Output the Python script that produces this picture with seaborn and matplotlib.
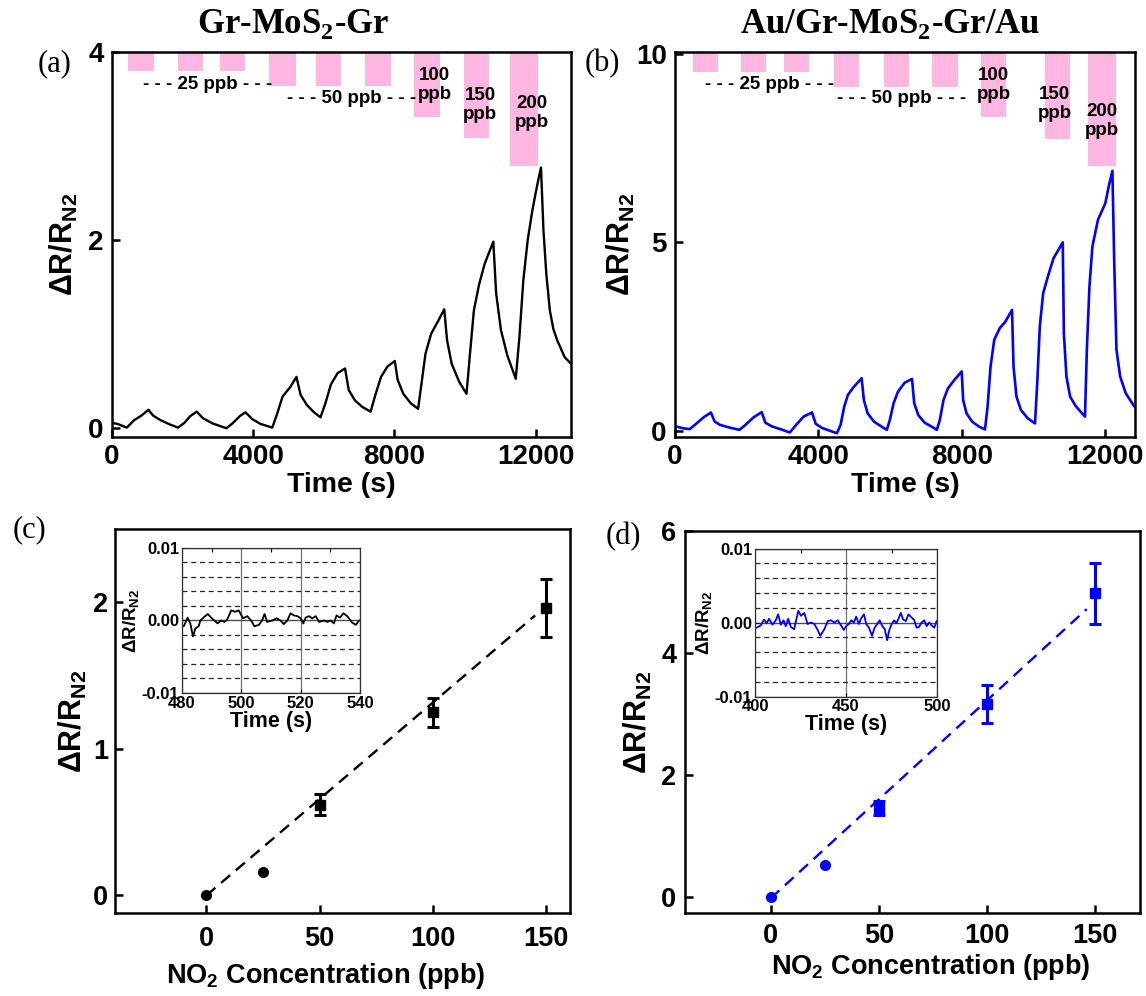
import numpy as np
import matplotlib
matplotlib.use("Agg")
import matplotlib.pyplot as plt
from matplotlib.ticker import MultipleLocator
import seaborn as sns

# ---------------- transient response, Gr-MoS2-Gr (time in s, dR/R_N2) ----------------
t_a = [0, 150, 420, 630, 840, 1030, 1160, 1370, 1630, 1870, 2050, 2210, 2400, 2575, 2840,
       3240, 3415, 3625, 3780, 3975, 4200, 4540, 4680, 4830, 5045, 5225, 5340, 5520, 5730,
       5905, 6045, 6200, 6390, 6600, 6705, 6880, 7090, 7325, 7460, 7620, 7800, 8010, 8090,
       8250, 8460, 8670, 8780, 8880, 9040, 9230, 9410, 9490, 9620, 9830, 10040, 10140, 10250,
       10400, 10560, 10800, 10880, 11015, 11195, 11435, 11540, 11650, 11775, 11900, 12000,
       12080, 12150, 12220, 12300, 12400, 12500, 12610, 12820, 13000]
r_a = [0.05, 0.04, 0.00, 0.08, 0.13, 0.19, 0.13, 0.08, 0.035, 0.00, 0.05, 0.12, 0.17, 0.10,
       0.046, -0.007, 0.046, 0.124, 0.163, 0.09, 0.04, 0.00, 0.15, 0.33, 0.43, 0.54, 0.35,
       0.24, 0.16, 0.11, 0.26, 0.46, 0.58, 0.63, 0.40, 0.29, 0.22, 0.17, 0.35, 0.54, 0.65,
       0.71, 0.51, 0.36, 0.26, 0.20, 0.51, 0.79, 1.00, 1.13, 1.26, 0.93, 0.68, 0.49, 0.36,
       0.79, 1.25, 1.53, 1.75, 1.98, 1.43, 1.04, 0.77, 0.52, 0.97, 1.57, 2.00, 2.30, 2.50,
       2.65, 2.77, 2.10, 1.64, 1.25, 1.05, 0.93, 0.75, 0.68]

# ---------------- transient response, Au/Gr-MoS2-Gr/Au ----------------
t_b = [0, 227, 413, 589, 795, 1002, 1105, 1260, 1519, 1797, 1963, 2190, 2417, 2520, 2706,
       2965, 3202, 3378, 3585, 3822, 3925, 4101, 4308, 4514, 4618, 4721, 4824, 4979, 5206,
       5268, 5372, 5547, 5754, 5909, 5992, 6095, 6219, 6405, 6611, 6673, 6787, 6963, 7148,
       7303, 7386, 7489, 7613, 7789, 7996, 8037, 8130, 8285, 8471, 8646, 8719, 8801, 8905,
       9060, 9215, 9400, 9442, 9524, 9648, 9834, 10041, 10103, 10175, 10268, 10402, 10557,
       10815, 10846, 10918, 11021, 11176, 11435, 11487, 11559, 11642, 11797, 12003, 12100,
       12200, 12250, 12313, 12417, 12572, 12810]
r_b = [0.13, 0.07, 0.05, 0.19, 0.36, 0.49, 0.25, 0.16, 0.09, 0.03, 0.16, 0.36, 0.50, 0.22,
       0.12, 0.04, -0.04, 0.16, 0.38, 0.49, 0.19, 0.08, 0.01, -0.06, 0.16, 0.65, 0.96, 1.16,
       1.40, 0.82, 0.47, 0.25, 0.12, 0.03, 0.29, 0.73, 1.04, 1.28, 1.38, 0.73, 0.42, 0.22,
       0.12, 0.03, 0.29, 0.82, 1.13, 1.35, 1.58, 0.82, 0.47, 0.25, 0.12, 0.04, 0.65, 1.71,
       2.42, 2.73, 2.90, 3.21, 1.71, 0.91, 0.56, 0.34, 0.20, 1.27, 2.77, 3.65, 4.10, 4.58,
       5.00, 2.59, 1.44, 0.91, 0.66, 0.38, 2.15, 3.83, 4.89, 5.60, 6.04, 6.50, 6.90, 4.50,
       2.15, 1.44, 1.00, 0.65]

# ---------------- NO2 pulses: gas on / off (s) and lower edge of each pulse bar ----------------
pulse_on_a = [440, 1860, 3050, 4460, 5770, 7160, 8550, 9960, 11270]
pulse_off_a = [1180, 2590, 3780, 5200, 6480, 7890, 9280, 10670, 12060]
pulse_floor_a = [3.80, 3.80, 3.80, 3.64, 3.64, 3.64, 3.31, 3.08, 2.79]

pulse_on_b = [490, 1850, 3040, 4430, 5820, 7160, 8530, 10310, 11530]
pulse_off_b = [1190, 2550, 3740, 5120, 6540, 7890, 9240, 11010, 12290]
pulse_floor_b = [9.52, 9.52, 9.52, 9.12, 9.12, 9.12, 8.33, 7.75, 7.03]

pulse_text = ["- - - 25 ppb - - -", "- - - 50 ppb - - -", "100\nppb", "150\nppb", "200\nppb"]

# ---------------- calibration: response vs NO2 concentration ----------------
conc = [0, 25, 50, 100, 150]
resp_c = [0.00, 0.16, 0.62, 1.25, 1.96]
err_c = [0.00, 0.00, 0.07, 0.10, 0.20]
fit_c_x = [0, 145]
fit_c_y = [0.00, 1.91]

resp_d = [0.00, 0.52, 1.46, 3.16, 4.98]
err_d = [0.00, 0.00, 0.11, 0.31, 0.50]
fit_d_x = [0, 146]
fit_d_y = [-0.02, 4.72]

# ---------------- baseline noise in N2 ----------------
t_nc = [480.6, 481.9, 482.8, 483.7, 484.5, 485.6, 486.2, 487.5, 488.7, 489.8, 490.9, 492.0,
        493.2, 494.3, 495.2, 496.6, 498.0, 499.1, 500.6, 502.0, 503.3, 504.4, 505.9, 507.0,
        507.8, 508.7, 510.4, 511.9, 513.2, 514.3, 515.5, 516.6, 517.7, 518.9, 520.0, 520.9,
        521.7, 522.8, 523.9, 525.1, 526.2, 527.9, 529.0, 530.1, 531.2, 532.1, 533.3, 534.4,
        535.7, 537.4, 538.6, 539.7]
n_c = [-0.0008, 0.0004, -0.0004, -0.0022, -0.0011, -0.0008, 0.0000, 0.0005, 0.0009, 0.0004,
       0.0000, -0.0004, 0.0000, -0.0002, 0.0001, 0.0014, 0.0012, 0.0014, 0.0003, 0.0006,
       0.0000, -0.0008, -0.0006, 0.0000, 0.0009, -0.0002, 0.0000, 0.0003, 0.0000, -0.0005,
       0.0000, 0.0010, 0.0007, 0.0006, 0.0003, -0.0004, 0.0004, 0.0006, 0.0003, 0.0006,
       -0.0002, 0.0000, -0.0002, 0.0000, -0.0004, 0.0007, 0.0004, 0.0010, 0.0006, -0.0003,
       -0.0006, 0.0000]

t_nd = [400.9, 403.1, 405.0, 406.4, 407.7, 409.6, 411.4, 412.7, 414.2, 415.7, 416.9, 418.2,
        419.7, 421.5, 423.8, 425.2, 427.1, 428.9, 430.8, 432.6, 434.4, 435.9, 438.1, 440.0,
        441.8, 443.6, 445.5, 447.3, 448.8, 450.1, 451.6, 452.9, 454.3, 455.6, 457.1, 458.4,
        459.9, 461.1, 462.6, 464.3, 465.7, 467.2, 468.5, 470.0, 471.3, 472.6, 473.7, 474.9,
        476.4, 477.7, 479.0, 480.1, 481.4, 482.9, 484.3, 486.0, 487.5, 488.8, 490.1, 491.5,
        493.0, 494.3, 495.8, 497.1, 498.5, 499.8]
n_d = [-0.0007, -0.0004, 0.0004, -0.0001, 0.0005, -0.0003, 0.0003, 0.0011, -0.0003, 0.0003,
       -0.0005, 0.0005, -0.0006, -0.0009, 0.0016, 0.0009, 0.0013, -0.0002, 0.0000, -0.0002,
       -0.0010, -0.0018, -0.0009, 0.0002, 0.0003, 0.0000, 0.0003, -0.0004, -0.0010, -0.0005,
       -0.0002, 0.0003, 0.0000, 0.0008, -0.0002, 0.0006, 0.0011, -0.0002, -0.0007, -0.0018,
       -0.0007, -0.0002, 0.0003, -0.0005, -0.0009, -0.0024, -0.0011, -0.0003, 0.0003, -0.0001,
       0.0006, 0.0013, 0.0004, 0.0002, 0.0011, 0.0007, 0.0003, -0.0007, -0.0006, 0.0000,
       0.0003, -0.0005, 0.0000, -0.0004, -0.0007, 0.0002]

inset_ticklabels = ["-0.01", "0.00", "0.01"]

# ---------------- styling ----------------
BLACK = "#000000"
BLUE = "#0000FF"
PINK = "#FFB6E0"
SANS = ["Liberation Sans", "DejaVu Sans"]
SERIF = ["Liberation Serif", "DejaVu Serif"]

sns.set_theme(style="ticks")
plt.rcParams.update({
    "font.family": SANS,
    "font.weight": "bold",
    "axes.labelweight": "bold",
    "text.color": "black",
    "axes.labelcolor": "black",
    "axes.edgecolor": "black",
    "axes.linewidth": 1.8,
    "xtick.color": "black",
    "ytick.color": "black",
    "xtick.labelcolor": "black",
    "ytick.labelcolor": "black",
    "xtick.direction": "in",
    "ytick.direction": "in",
})

YLABEL = "\u0394R/R$_\\mathregular{N2}$"

W, H = 1146, 996
fig = plt.figure(figsize=(W / 100, H / 100), dpi=100)


def px_axes(left, top, right, bottom):
    return fig.add_axes([left / W, 1 - bottom / H, (right - left) / W, (bottom - top) / H])


def style_main(ax, fs, xpad, ypad):
    ax.tick_params(axis="both", which="major", labelsize=fs, length=6, width=1.8,
                   direction="in", top=False, right=False, colors="black")
    ax.tick_params(axis="x", pad=xpad)
    ax.tick_params(axis="y", pad=ypad)
    for s in ax.spines.values():
        s.set_visible(True)
        s.set_linewidth(1.8)
        s.set_color("black")


def draw_pulses(ax, on, off, floor, top, labels_xy):
    widths = [b - a for a, b in zip(on, off)]
    heights = [top - f for f in floor]
    ax.bar(on, heights, width=widths, bottom=floor, align="edge", color=PINK,
           linewidth=0, zorder=1)
    for txt, (x, y) in zip(pulse_text, labels_xy):
        ax.text(x, y, txt, transform=ax.transAxes, ha="center", va="center",
                fontsize=13.5, fontweight="bold", color="black", linespacing=1.15, zorder=3)


# ---------------- (a) ----------------
ax_a = px_axes(112, 52, 571, 437)
ylim_a = (-0.1, 4.0)
draw_pulses(ax_a, pulse_on_a, pulse_off_a, pulse_floor_a, ylim_a[1],
            [(0.209, 0.916), (0.521, 0.879), (0.703, 0.915), (0.802, 0.862), (0.915, 0.842)])
sns.lineplot(x=t_a, y=r_a, ax=ax_a, color=BLACK, lw=1.7, estimator=None, sort=False, zorder=2)
ax_a.set_xlim(0, 13000)
ax_a.set_ylim(*ylim_a)
ax_a.set_xticks([0, 4000, 8000, 12000])
ax_a.set_yticks([0, 2, 4])
style_main(ax_a, 20, 5, 6)
ax_a.set_xlabel("Time (s)", fontsize=20.5)
ax_a.set_ylabel(YLABEL, fontsize=22)
ax_a.xaxis.set_label_coords(0.5, -0.09)
ax_a.yaxis.set_label_coords(-0.07, 0.5)

# ---------------- (b) ----------------
ax_b = px_axes(675, 52, 1135, 437)
ylim_b = (-0.16, 10.05)
draw_pulses(ax_b, pulse_on_b, pulse_off_b, pulse_floor_b, ylim_b[1],
            [(0.205, 0.916), (0.493, 0.879), (0.693, 0.915), (0.825, 0.864), (0.929, 0.822)])
sns.lineplot(x=t_b, y=r_b, ax=ax_b, color=BLUE, lw=1.9, estimator=None, sort=False, zorder=2)
ax_b.set_xlim(0, 12830)
ax_b.set_ylim(*ylim_b)
ax_b.set_xticks([0, 4000, 8000, 12000])
ax_b.set_yticks([0, 5, 10])
style_main(ax_b, 20, 5, 6)
ax_b.set_xlabel("Time (s)", fontsize=20.5)
ax_b.set_ylabel(YLABEL, fontsize=22)
ax_b.xaxis.set_label_coords(0.5, -0.09)
ax_b.yaxis.set_label_coords(-0.083, 0.5)


def calibration(ax, resp, err, fx, fy, color):
    sns.lineplot(x=fx, y=fy, ax=ax, color=color, lw=1.7, estimator=None, sort=False,
                 zorder=2).lines[-1].set_dashes((5, 3.2))
    for c, r, e in zip(conc, resp, err):
        if e > 0:
            ax.errorbar([c], [r], yerr=[e], fmt="none", ecolor=color, elinewidth=2.2,
                        capsize=4, capthick=2.2, zorder=3)
        ax.plot([c], [r], marker="o" if c < 50 else "s", ms=7, color=color,
                mec=color, ls="none", zorder=4)


# ---------------- (c) ----------------
ax_c = px_axes(115, 529, 570, 913)
calibration(ax_c, resp_c, err_c, fit_c_x, fit_c_y, BLACK)
ax_c.set_xlim(-40.3, 160.4)
ax_c.set_ylim(-0.12, 2.5)
ax_c.set_xticks([0, 50, 100, 150])
ax_c.set_yticks([0, 1, 2])
style_main(ax_c, 19.5, 9, 5)
ax_c.set_xlabel("NO$_\\mathregular{2}$ Concentration (ppb)", fontsize=19.5)
ax_c.set_ylabel(YLABEL, fontsize=22)
ax_c.xaxis.set_label_coords(0.464, -0.125)
ax_c.yaxis.set_label_coords(-0.057, 0.5)

# ---------------- (d) ----------------
ax_d = px_axes(684.5, 531, 1140, 913)
calibration(ax_d, resp_d, err_d, fit_d_x, fit_d_y, BLUE)
ax_d.set_xlim(-39.8, 170.6)
ax_d.set_ylim(-0.26, 6.0)
ax_d.set_xticks([0, 50, 100, 150])
ax_d.set_yticks([0, 2, 4, 6])
style_main(ax_d, 19.5, 7, 6)
ax_d.set_xlabel("NO$_\\mathregular{2}$ Concentration (ppb)", fontsize=19.5)
ax_d.set_ylabel(YLABEL, fontsize=22)
ax_d.xaxis.set_label_coords(0.54, -0.103)
ax_d.yaxis.set_label_coords(-0.067, 0.5)


# ---------------- insets: baseline noise ----------------
def noise_inset(box, t, n, color, xlim, xticks, xminor):
    ax = px_axes(*box)
    ax.set_facecolor("white")
    sns.lineplot(x=t, y=n, ax=ax, color=color, lw=1.3, estimator=None, sort=False, zorder=3)
    ax.set_xlim(*xlim)
    ax.set_ylim(-0.01, 0.01)
    ax.set_xticks(xticks)
    ax.xaxis.set_minor_locator(MultipleLocator(xminor))
    ax.set_yticks([-0.01, 0.0, 0.01])
    ax.set_yticklabels(inset_ticklabels)
    ax.yaxis.set_minor_locator(MultipleLocator(0.002))
    ax.grid(axis="x", which="major", color="0.45", lw=0.9, ls="-", zorder=1)
    ax.grid(axis="y", which="major", color="0.3", lw=1.0, ls="-", zorder=1)
    ax.grid(axis="y", which="minor", color="0.15", lw=0.9, ls=(0, (4, 3)), zorder=1)
    ax.tick_params(axis="both", which="major", labelsize=12, length=3, width=0.8,
                   direction="in", pad=2, colors="black")
    ax.tick_params(axis="y", which="minor", length=0)
    ax.tick_params(axis="x", which="minor", bottom=False, top=True, length=3,
                   width=0.8, direction="in")
    for s in ax.spines.values():
        s.set_linewidth(0.9)
        s.set_color("0.2")
    ax.set_xlabel("Time (s)", fontsize=15.5, labelpad=0)
    ax.set_ylabel(YLABEL, fontsize=13.5, labelpad=0)
    return ax


ins_c = noise_inset((182, 548, 360, 693), t_nc, n_c, BLACK, (480, 540), [480, 500, 520, 540], 10)
ins_d = noise_inset((755, 548.5, 937, 696.5), t_nd, n_d, BLUE, (400, 500), [400, 450, 500], 25)

# ---------------- titles and panel letters ----------------
fig.text(293 / W, 1 - 24 / H, "Gr-MoS$_\\mathregular{2}$-Gr", ha="center", va="center",
         fontsize=25, fontweight="bold", family=SERIF, color="black")
fig.text(890 / W, 1 - 24 / H, "Au/Gr-MoS$_\\mathregular{2}$-Gr/Au", ha="center", va="center",
         fontsize=25, fontweight="bold", family=SERIF, color="black")
for letter, (x, y) in zip(["(a)", "(b)", "(c)", "(d)"],
                          [(55, 64), (602, 64), (30, 530), (623, 537)]):
    fig.text(x / W, 1 - y / H, letter, ha="center", va="center", fontsize=22,
             fontweight="normal", family=SERIF, color="black")

fig.savefig("out.png", dpi=100, facecolor="white")
